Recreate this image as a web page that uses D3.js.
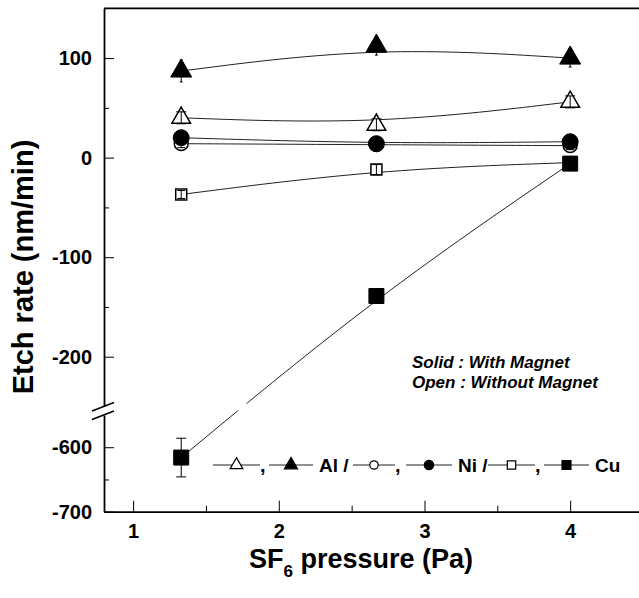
<!DOCTYPE html>
<html>
<head>
<meta charset="utf-8">
<script src="https://cdn.jsdelivr.net/npm/d3@7"></script>
<style>
  body { margin: 0; background: #fff; }
  svg { display: block; font-family: "Liberation Sans", Arial, sans-serif; }
  .axis text { font-size: 20px; font-weight: bold; fill: #000; }
  .axis path, .axis line { stroke: #000; }
</style>
</head>
<body>
<svg id="chart"></svg>
<script>
// SF6 pressure (Pa)
const pressure = [1.33, 2.67, 4];

// etch rate (nm/min), solid = with magnet, open = without magnet
const alWith = [87, 112, 100];
const alWithErr = [11, 9, 9];
const alWithout = [40, 33, 56];
const alWithoutErr = [6, 6, 6];
const niWith = [20, 14, 16];
const niWithErr = [4, 4, 4];
const niWithout = [14, 13, 12];
const niWithoutErr = [4, 4, 4];
const cuWith = [-616, -139, -6];
const cuWithErr = [30, 4, 4];
const cuWithout = [-37, -12, -5];
const cuWithoutErr = [4, 5, 3];

const xTicks = [1, 2, 3, 4];
const xMinor = [1.5, 2.5, 3.5];
const yTicksUpper = [100, 0, -100, -200];
const yMinorUpper = [50, -50, -150];
const yTicksLower = [-600, -700];
const yMinorLower = [-650];

const width = 639;
const height = 598;
const pLeft = 104, pRight = 643, pTop = 8.3, pBottom = 511.7;
const breakTop = 406.5, breakBottom = 415;

const svg = d3.select("#chart")
    .attr("width", width)
    .attr("height", height);

const x = d3.scaleLinear().domain([0.8, 4.5]).range([pLeft, pRight]);
const yUp = d3.scaleLinear().domain([-250, 150]).range([breakTop, pTop]);
const yLow = d3.scaleLinear().domain([-700, -550]).range([pBottom, breakBottom]);
const y = v => v >= -250 ? yUp(v) : yLow(v);

// frame (top + right, right one falls off the page)
svg.append("path")
    .attr("d", `M${pLeft},${pTop}H${pRight}V${pBottom}`)
    .attr("fill", "none")
    .attr("stroke", "#000")
    .attr("stroke-width", 1.8);

// x axis
const gx = svg.append("g").attr("class", "axis")
    .attr("transform", `translate(0,${pBottom})`)
    .call(d3.axisBottom(x).tickValues(xTicks).tickSize(-11).tickSizeOuter(0).tickPadding(12).tickFormat(d3.format("d")));
gx.select(".domain").attr("stroke-width", 1.8);
svg.append("g").attr("class", "axis")
    .attr("transform", `translate(0,${pBottom})`)
    .call(d3.axisBottom(x).tickValues(xMinor).tickSize(-6).tickSizeOuter(0).tickFormat(""))
    .select(".domain").remove();

// y axis, two pieces with a break
[[yUp, yTicksUpper, yMinorUpper], [yLow, yTicksLower, yMinorLower]].forEach(([s, major, minor]) => {
    const g = svg.append("g").attr("class", "axis")
        .attr("transform", `translate(${pLeft},0)`)
        .call(d3.axisLeft(s).tickValues(major).tickSize(-10).tickSizeOuter(0).tickPadding(12).tickFormat(d3.format("d")));
    g.select(".domain").attr("stroke-width", 1.8);
    g.selectAll("text").text(d => d < 0 ? "-" + Math.abs(d) : d);
    svg.append("g").attr("class", "axis")
        .attr("transform", `translate(${pLeft},0)`)
        .call(d3.axisLeft(s).tickValues(minor).tickSize(-5).tickSizeOuter(0).tickFormat(""))
        .select(".domain").remove();
});

// break marks
[0, 8.5].forEach(off => {
    svg.append("line")
        .attr("x1", pLeft - 12).attr("y1", 411 + off)
        .attr("x2", pLeft + 10).attr("y2", 402.5 + off)
        .attr("stroke", "#000").attr("stroke-width", 1.6);
});

// fitted lines, cut at the axis break
const defs = svg.append("defs");
const clip = defs.append("clipPath").attr("id", "gap");
clip.append("rect").attr("x", pLeft).attr("y", 0).attr("width", pRight - pLeft).attr("height", 403.5);
clip.append("rect").attr("x", pLeft).attr("y", 410.5).attr("width", pRight - pLeft).attr("height", 200);

const series = [
    {vals: alWithout, err: alWithoutErr, shape: d3.symbolTriangle, size: 150, filled: false, cap: 5},
    {vals: niWithout, err: niWithoutErr, shape: d3.symbolCircle, size: 150, filled: false, cap: 4},
    {vals: cuWithout, err: cuWithoutErr, shape: d3.symbolSquare, size: 121, filled: false, cap: 4},
    {vals: alWith, err: alWithErr, shape: d3.symbolTriangle, size: 190, filled: true, cap: 1.5},
    {vals: niWith, err: niWithErr, shape: d3.symbolCircle, size: 200, filled: true, cap: 4},
    {vals: cuWith, err: cuWithErr, shape: d3.symbolSquare, size: 225, filled: true, cap: 5}
];

const line = d3.line()
    .x((d, i) => x(pressure[i]))
    .y(d => y(d))
    .curve(d3.curveBasis);

svg.append("g").attr("clip-path", "url(#gap)")
    .selectAll("path")
    .data(series)
    .join("path")
    .attr("d", s => line(s.vals))
    .attr("fill", "none")
    .attr("stroke", "#222")
    .attr("stroke-width", 1);

series.forEach(s => {
    const g = svg.append("g");
    const bars = g.append("g");
    g.selectAll("path.mark")
        .data(s.vals)
        .join("path")
        .attr("class", "mark")
        .attr("transform", (d, i) => `translate(${x(pressure[i])},${y(d)})`)
        .attr("d", d3.symbol(s.shape, s.size))
        .attr("fill", s.filled ? "#000" : "#fff")
        .attr("stroke", "#000")
        .attr("stroke-width", s.filled ? 1 : 1.5);
    // open marks show their error bars on top, solid ones hide them underneath
    if (!s.filled) bars.raise();
    s.vals.forEach((v, i) => {
        const cx = x(pressure[i]);
        const y0 = y(v - s.err[i]), y1 = y(v + s.err[i]);
        const c = s.cap;
        bars.append("path")
            .attr("d", `M${cx},${y0}V${y1}M${cx - c},${y0}H${cx + c}M${cx - c},${y1}H${cx + c}`)
            .attr("stroke", "#000").attr("stroke-width", 1).attr("fill", "none");
    });
});

// legend row
const legY = 465;
const legend = svg.append("g");
const legItems = [
    {x1: 213, x2: 260, shape: d3.symbolTriangle, size: 70, filled: false, after: ","},
    {x1: 269, x2: 313, shape: d3.symbolTriangle, size: 75, filled: true, after: "Al /"},
    {x1: 353, x2: 395, shape: d3.symbolCircle, size: 55, filled: false, after: ","},
    {x1: 406, x2: 452, shape: d3.symbolCircle, size: 70, filled: true, after: "Ni /"},
    {x1: 488, x2: 535, shape: d3.symbolSquare, size: 70, filled: false, after: ","},
    {x1: 544, x2: 589, shape: d3.symbolSquare, size: 80, filled: true, after: "Cu"}
];
legItems.forEach(it => {
    legend.append("line")
        .attr("x1", it.x1).attr("x2", it.x2).attr("y1", legY).attr("y2", legY)
        .attr("stroke", "#222").attr("stroke-width", 1);
    legend.append("path")
        .attr("transform", `translate(${(it.x1 + it.x2) / 2},${legY})`)
        .attr("d", d3.symbol(it.shape, it.size))
        .attr("fill", it.filled ? "#000" : "#fff")
        .attr("stroke", "#000").attr("stroke-width", 1.2);
    legend.append("text")
        .attr("x", it.x2 + (it.after === "," ? 0 : 6))
        .attr("y", legY + 7)
        .attr("font-size", it.after === "," ? 20 : 19)
        .attr("font-weight", "bold")
        .text(it.after);
});

// annotation
const note = svg.append("g")
    .attr("font-size", 17).attr("font-weight", "bold").attr("font-style", "italic");
note.append("text").attr("x", 412).attr("y", 368).text("Solid : With Magnet");
note.append("text").attr("x", 412).attr("y", 388).text("Open : Without Magnet");

// axis titles
svg.append("text")
    .attr("transform", "translate(33,267) rotate(-90)")
    .attr("text-anchor", "middle")
    .attr("font-size", 29).attr("font-weight", "bold")
    .text("Etch rate (nm/min)");

const xt = svg.append("text")
    .attr("x", 361).attr("y", 568)
    .attr("text-anchor", "middle")
    .attr("font-size", 27).attr("font-weight", "bold");
xt.append("tspan").text("SF");
xt.append("tspan").attr("font-size", 17).attr("dy", 9).text("6");
xt.append("tspan").attr("dy", -9).text(" pressure (Pa)");
</script>
</body>
</html>
